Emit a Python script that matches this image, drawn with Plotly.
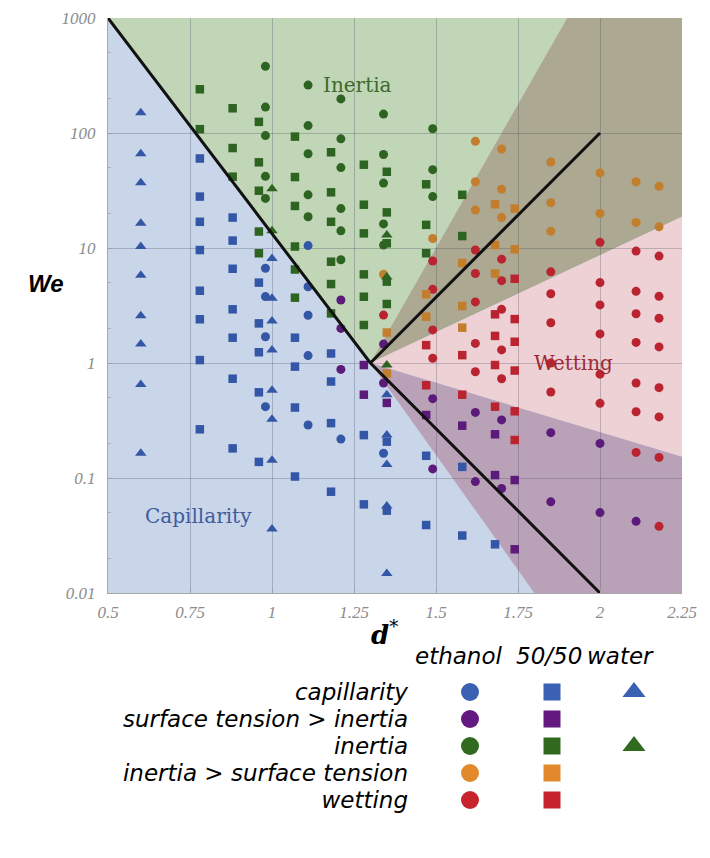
import math
import plotly.graph_objects as go

W, H = 710, 858

# ---------------- data (d*, We) ----------------
# ethanol (circles)
eth_cap_x = [0.98, 0.98, 0.98, 0.98, 1.11, 1.11, 1.11, 1.11, 1.11, 1.21, 1.34]
eth_cap_y = [6.66, 3.78, 1.69, 0.417, 10.5, 4.6, 2.6, 1.16, 0.289, 0.218, 0.164]

eth_sti_x = [1.21, 1.21, 1.21, 1.34, 1.34, 1.49, 1.49, 1.62, 1.62, 1.70, 1.70,
             1.85, 1.85, 2.0, 2.0, 2.11]
eth_sti_y = [3.53, 2.0, 0.88, 1.46, 0.67, 0.49, 0.12, 0.372, 0.093, 0.32, 0.081,
             0.248, 0.062, 0.2, 0.05, 0.042]

eth_in_x = [0.98, 0.98, 0.98, 0.98, 0.98, 1.11, 1.11, 1.11, 1.11, 1.11,
            1.21, 1.21, 1.21, 1.21, 1.21, 1.21, 1.34, 1.34, 1.34, 1.34, 1.34,
            1.49, 1.49, 1.49]
eth_in_y = [380, 168, 95, 42, 27, 261, 116, 66, 29, 18.7,
            198, 89, 50, 22, 14.1, 7.9, 146, 65, 36.7, 16.2, 10.6,
            109, 48, 28]

eth_ist_x = [1.34, 1.49, 1.62, 1.62, 1.62, 1.70, 1.70, 1.70, 1.85, 1.85, 1.85,
             2.0, 2.0, 2.11, 2.11, 2.18, 2.18]
eth_ist_y = [5.9, 12.1, 84.6, 37.7, 21.4, 72.6, 32.4, 18.4, 56, 24.8, 14,
             45, 20, 37.7, 16.7, 34.4, 15.3]

eth_wet_x = [1.34, 1.49, 1.49, 1.49, 1.49, 1.62, 1.62, 1.62, 1.62, 1.62,
             1.70, 1.70, 1.70, 1.70, 1.70, 1.85, 1.85, 1.85, 1.85, 1.85,
             2.0, 2.0, 2.0, 2.0, 2.0, 2.0, 2.11, 2.11, 2.11, 2.11, 2.11, 2.11, 2.11,
             2.18, 2.18, 2.18, 2.18, 2.18, 2.18, 2.18, 2.18]
eth_wet_y = [2.61, 7.7, 4.37, 1.94, 1.1, 9.6, 6.0, 3.4, 1.48, 0.84,
             8.0, 5.2, 2.93, 1.30, 0.73, 6.2, 4.0, 2.24, 1.0, 0.56,
             11.2, 5.0, 3.2, 1.79, 0.80, 0.446, 9.4, 4.2, 2.68, 1.51, 0.67, 0.377, 0.167,
             8.5, 3.8, 2.45, 1.38, 0.61, 0.34, 0.151, 0.038]

# 50/50 mixture (squares)
mix_cap_x = [0.78, 0.78, 0.78, 0.78, 0.78, 0.78, 0.78, 0.78,
             0.88, 0.88, 0.88, 0.88, 0.88, 0.88, 0.88,
             0.96, 0.96, 0.96, 0.96, 0.96, 1.07, 1.07, 1.07, 1.07,
             1.18, 1.18, 1.18, 1.18, 1.28, 1.28, 1.35, 1.35, 1.47, 1.47,
             1.58, 1.58, 1.68]
mix_cap_y = [60, 28, 16.9, 9.6, 4.25, 2.4, 1.06, 0.265,
             18.4, 11.6, 6.6, 2.93, 1.66, 0.73, 0.181,
             5.0, 2.21, 1.24, 0.556, 0.138, 1.66, 0.93, 0.41, 0.103,
             1.21, 0.69, 0.30, 0.076, 0.236, 0.059, 0.207, 0.052, 0.156, 0.039,
             0.125, 0.0316, 0.0265]

mix_sti_x = [1.28, 1.28, 1.35, 1.47, 1.58, 1.68, 1.68, 1.74, 1.74]
mix_sti_y = [0.96, 0.53, 0.45, 0.353, 0.285, 0.24, 0.106, 0.096, 0.024]

mix_in_x = [0.78, 0.78, 0.88, 0.88, 0.88, 0.96, 0.96, 0.96, 0.96, 0.96,
            1.07, 1.07, 1.07, 1.07, 1.07, 1.07, 1.18, 1.18, 1.18, 1.18, 1.18, 1.18,
            1.28, 1.28, 1.28, 1.28, 1.28, 1.28, 1.35, 1.35, 1.35, 1.35, 1.35,
            1.47, 1.47, 1.47, 1.58, 1.58]
mix_in_y = [240, 108, 164, 74, 41.7, 125, 55.6, 31.5, 13.9, 9.0,
            93, 41.4, 23.2, 10.3, 6.5, 3.7, 68, 30.5, 16.9, 7.6, 4.86, 2.7,
            53, 23.8, 13.4, 5.9, 3.77, 2.14, 46, 20.4, 11, 5.1, 3.26,
            35.8, 15.9, 9.0, 29, 12.7]

mix_ist_x = [1.35, 1.35, 1.47, 1.47, 1.58, 1.58, 1.58, 1.68, 1.68, 1.68, 1.74, 1.74]
mix_ist_y = [1.84, 0.81, 3.96, 2.53, 7.4, 3.13, 2.03, 24, 10.6, 6.0, 22, 9.75]

mix_wet_x = [1.47, 1.47, 1.58, 1.58, 1.68, 1.68, 1.68, 1.68,
             1.74, 1.74, 1.74, 1.74, 1.74, 1.74]
mix_wet_y = [1.43, 0.64, 1.17, 0.53, 2.65, 1.72, 0.96, 0.417,
             5.4, 2.41, 1.53, 0.86, 0.38, 0.214]

# water (triangles)
wat_cap_x = [0.6, 0.6, 0.6, 0.6, 0.6, 0.6, 0.6, 0.6, 0.6, 0.6,
             1.0, 1.0, 1.0, 1.0, 1.0, 1.0, 1.0, 1.0,
             1.35, 1.35, 1.35, 1.35, 1.35]
wat_cap_y = [150, 66, 37, 16.4, 10.3, 5.8, 2.58, 1.46, 0.65, 0.164,
             8.1, 3.65, 2.32, 1.3, 0.58, 0.324, 0.143, 0.036,
             0.53, 0.236, 0.131, 0.057, 0.0148]

wat_in_x = [1.0, 1.0, 1.35, 1.35, 1.35]
wat_in_y = [32.8, 14.1, 13, 5.6, 0.96]

# regime boundaries
bound_left_x = [0.5, 1.3, 2.0]
bound_left_y = [1000, 1, 0.01]
bound_right_x = [1.3, 2.0]
bound_right_y = [1, 100]

green_x = [0.5, 1.3, 1.9]
green_y = [1000, 1, 1000]
brown_x = [1.3, 1.9, 2.25, 2.25]
brown_y = [1, 1000, 1000, 18.7]
pink_x = [1.3, 2.25, 2.25]
pink_y = [1, 18.7, 0.153]
purple_x = [1.3, 2.25, 2.25, 1.8]
purple_y = [1, 0.153, 0.01, 0.01]

x_ticks = [0.5, 0.75, 1, 1.25, 1.5, 1.75, 2, 2.25]
x_ticktext = ["0.5", "0.75", "1", "1.25", "1.5", "1.75", "2", "2.25"]
y_ticks = [0.01, 0.1, 1, 10, 100, 1000]
y_ticktext = ["0.01", "0.1", "1", "10", "100", "1000"]

solvents = ["ethanol", "50/50", "water"]
regimes = ["capillarity", "surface tension > inertia", "inertia",
           "inertia > surface tension", "wetting"]
regime_labels = ["capillarity", "surface tension &gt; inertia", "inertia",
                 "inertia &gt; surface tension", "wetting"]

series = [
    ("ethanol", "capillarity", eth_cap_x, eth_cap_y),
    ("ethanol", "surface tension > inertia", eth_sti_x, eth_sti_y),
    ("ethanol", "inertia", eth_in_x, eth_in_y),
    ("ethanol", "inertia > surface tension", eth_ist_x, eth_ist_y),
    ("ethanol", "wetting", eth_wet_x, eth_wet_y),
    ("50/50", "capillarity", mix_cap_x, mix_cap_y),
    ("50/50", "surface tension > inertia", mix_sti_x, mix_sti_y),
    ("50/50", "inertia", mix_in_x, mix_in_y),
    ("50/50", "inertia > surface tension", mix_ist_x, mix_ist_y),
    ("50/50", "wetting", mix_wet_x, mix_wet_y),
    ("water", "capillarity", wat_cap_x, wat_cap_y),
    ("water", "inertia", wat_in_x, wat_in_y),
]

# ---------------- styles ----------------
SYMBOL = {"ethanol": "circle", "50/50": "square", "water": "triangle-up"}
SIZE = {"ethanol": 9, "50/50": 8.5, "water": 10}
LEG_SIZE = {"ethanol": 18, "50/50": 17, "water": 20}
COLOR = {"capillarity": "#3456a6", "surface tension > inertia": "#5c1b7a",
         "inertia": "#2e6421", "inertia > surface tension": "#c27e2d",
         "wetting": "#ba2430"}
LEG_COLOR = {"capillarity": "#3b61b4", "surface tension > inertia": "#63197f",
             "inertia": "#2f6a1f", "inertia > surface tension": "#e2892b",
             "wetting": "#c6232d"}

BG_BLUE = "#c9d5e9"
FILL = [(green_x, green_y, "#c1d5b7"), (brown_x, brown_y, "#aca891"),
        (pink_x, pink_y, "#edd1d5"), (purple_x, purple_y, "#b9a2b7")]

# page offset of the figure inside the browser body
OFF = 8
# plot area (screen pixels) -> figure pixels
PL, PR, PT, PB = 108 - OFF, 682 - OFF, 18 - OFF, 593 - OFF
# legend grid area (figure pixels)
LX0, LX1 = 429 - OFF, 675 - OFF
LY0, LY1 = 678.5 - OFF, 813.5 - OFF
# legend column header centres (screen pixels)
HEAD_X = [458, 549, 620]
HEAD_Y = 656


def path_from(xs, ys):
    return "M " + " L ".join(f"{x},{y}" for x, y in zip(xs, ys)) + " Z"


fig = go.Figure()

for solvent, regime, xs, ys in series:
    fig.add_trace(go.Scatter(
        x=xs, y=ys, mode="markers", xaxis="x", yaxis="y",
        marker=dict(symbol=SYMBOL[solvent], size=SIZE[solvent],
                    color=COLOR[regime], line=dict(width=0)),
        showlegend=False, hoverinfo="skip"))

for bx, by in [(bound_left_x, bound_left_y), (bound_right_x, bound_right_y)]:
    fig.add_trace(go.Scatter(x=bx, y=by, mode="lines", xaxis="x", yaxis="y",
                             line=dict(color="#111111", width=3),
                             showlegend=False, hoverinfo="skip"))

# legend grid
for solvent, regime, xs, ys in series:
    fig.add_trace(go.Scatter(
        x=[solvent], y=[regime], mode="markers", xaxis="x2", yaxis="y2",
        marker=dict(symbol=SYMBOL[solvent], size=LEG_SIZE[solvent],
                    color=LEG_COLOR[regime], line=dict(width=0)),
        showlegend=False, hoverinfo="skip"))

shapes = [dict(type="rect", xref="x domain", yref="y domain", x0=0, x1=1, y0=0, y1=1,
               fillcolor=BG_BLUE, line=dict(width=0), layer="below")]
for fx, fy, col in FILL:
    shapes.append(dict(type="path", xref="x", yref="y", path=path_from(fx, fy),
                       fillcolor=col, line=dict(width=0), layer="below"))

tickfont = dict(family="Liberation Serif", size=17, color="#8c8c8c", style="italic")
legfont = dict(family="DejaVu Sans", size=23, color="black", style="italic")
grid = "rgba(60,70,85,0.28)"

annotations = [
    dict(text="Inertia", x=1.262, y=math.log10(260), xref="x", yref="y",
         showarrow=False, font=dict(family="DejaVu Serif", size=20, color="#3b6a2c")),
    dict(text="Wetting", x=1.92, y=math.log10(1.0), xref="x", yref="y",
         showarrow=False, font=dict(family="DejaVu Serif", size=20, color="#9c2a35")),
    dict(text="Capillarity", x=0.777, y=math.log10(0.047), xref="x", yref="y",
         showarrow=False, font=dict(family="DejaVu Serif", size=20, color="#3e5c9e")),
    dict(text="<b><i>We</i></b>", x=(46 - OFF) / W, y=1 - (283 - OFF) / H,
         xref="paper", yref="paper", xanchor="center", yanchor="middle",
         showarrow=False, font=dict(family="Liberation Sans", size=24, color="black")),
    dict(text="<b><i>d</i></b><sup>*</sup>", x=(385 - OFF) / W, y=1 - (633 - OFF) / H,
         xref="paper", yref="paper", xanchor="center", yanchor="middle",
         showarrow=False, font=dict(family="DejaVu Serif", size=26, color="black")),
]
for name, hx in zip(solvents, HEAD_X):
    annotations.append(dict(text=name, x=(hx - OFF) / W, y=1 - (HEAD_Y - OFF) / H,
                            xref="paper", yref="paper", xanchor="center", yanchor="middle",
                            showarrow=False, font=legfont))

fig.update_layout(
    width=W, height=H, margin=dict(l=0, r=0, t=0, b=0),
    paper_bgcolor="white", plot_bgcolor="white",
    shapes=shapes, annotations=annotations,
    xaxis=dict(domain=[PL / W, PR / W], range=[0.5, 2.25], anchor="y",
               tickmode="array", tickvals=x_ticks, ticktext=x_ticktext,
               showgrid=True, gridcolor=grid, gridwidth=1, zeroline=False,
               showline=True, linecolor="#a8a8a8", linewidth=1,
               ticks="inside", ticklen=4, tickcolor="#a0a0a0",
               tickfont=tickfont, ticklabelstandoff=4, automargin=False),
    yaxis=dict(domain=[1 - PB / H, 1 - PT / H], type="log", range=[-2, 3], anchor="x",
               tickmode="array", tickvals=y_ticks, ticktext=y_ticktext,
               showgrid=True, gridcolor=grid, gridwidth=1, zeroline=False,
               showline=True, linecolor="#a8a8a8", linewidth=1,
               ticks="inside", ticklen=4, tickcolor="#a0a0a0",
               minor=dict(ticks="inside", ticklen=3, tickcolor="#b0b0b0",
                          dtick="D2", showgrid=False),
               tickfont=tickfont, ticklabelstandoff=8, automargin=False),
    xaxis2=dict(domain=[LX0 / W, LX1 / W], anchor="y2", type="category",
                categoryorder="array", categoryarray=solvents, range=[-0.5, 2.5],
                showticklabels=False, showgrid=False, zeroline=False,
                showline=False, ticks="", automargin=False),
    yaxis2=dict(domain=[1 - LY1 / H, 1 - LY0 / H], anchor="x2", type="category",
                categoryorder="array", categoryarray=regimes, range=[4.5, -0.5],
                tickmode="array", tickvals=regimes, ticktext=regime_labels,
                showgrid=False, zeroline=False, showline=False, ticks="",
                tickfont=legfont, ticklabelstandoff=20, automargin=False),
)

fig.write_html("out.html")
